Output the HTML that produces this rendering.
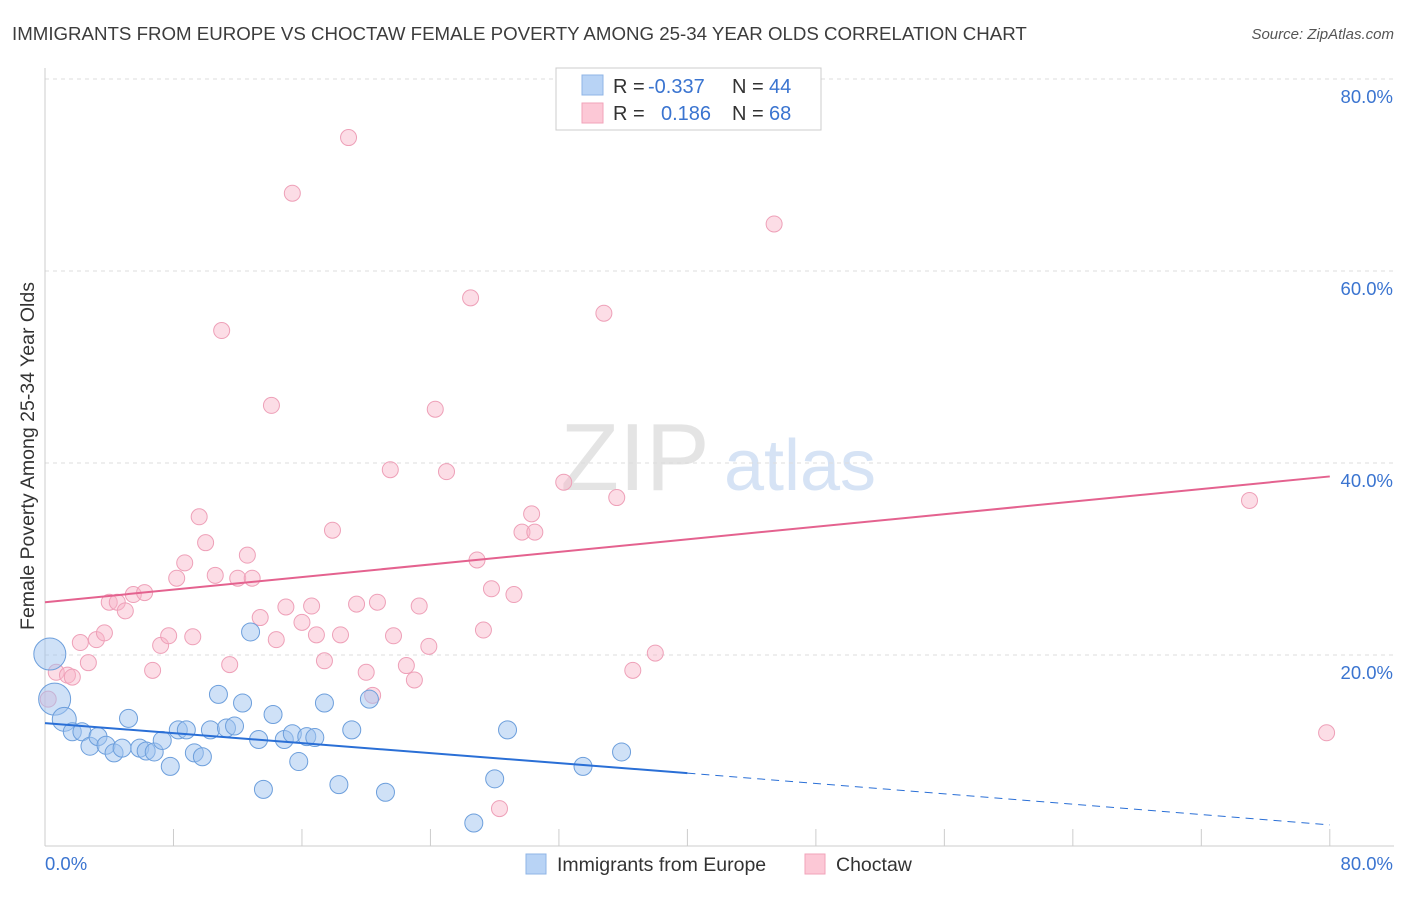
<!DOCTYPE html>
<html><head><meta charset="utf-8">
<style>
body{margin:0;background:#fff;font-family:"Liberation Sans",sans-serif;}
svg text{font-family:"Liberation Sans",sans-serif;}
</style></head>
<body>
<svg id="chart" width="1406" height="892" xmlns="http://www.w3.org/2000/svg">
<text x="12" y="40" font-size="18.7" fill="#3c3c3c">IMMIGRANTS FROM EUROPE VS CHOCTAW FEMALE POVERTY AMONG 25-34 YEAR OLDS CORRELATION CHART</text>
<text x="1394" y="39" font-size="15" fill="#555" font-style="italic" text-anchor="end">Source: ZipAtlas.com</text>
<text x="635" y="490" font-size="96" fill="#e4e4e4" font-family="Liberation Serif" text-anchor="middle">ZIP</text>
<text x="800" y="490" font-size="72" fill="#d6e3f5" text-anchor="middle">atlas</text>
<g id="grid"></g>
<g id="axes"></g>
<g id="points"></g>
<g id="lines"></g>
<text transform="translate(34,456) rotate(-90)" font-size="19.5" fill="#333" text-anchor="middle">Female Poverty Among 25-34 Year Olds</text>
<g>
<rect x="556" y="68" width="265" height="62" fill="#fff" stroke="#ccc"/>
<rect x="582" y="75" width="21" height="20" fill="#b8d3f5" stroke="#8fb4e6"/>
<rect x="582" y="103" width="21" height="20" fill="#fcc8d6" stroke="#f2a3ba"/>
<text x="613" y="93" font-size="20" fill="#333">R =</text>
<text x="648" y="93" font-size="20" fill="#3a74d0">-0.337</text>
<text x="732" y="93" font-size="20" fill="#333">N =</text>
<text x="769" y="93" font-size="20" fill="#3a74d0">44</text>
<text x="613" y="120" font-size="20" fill="#333">R =</text>
<text x="661" y="120" font-size="20" fill="#3a74d0">0.186</text>
<text x="732" y="120" font-size="20" fill="#333">N =</text>
<text x="769" y="120" font-size="20" fill="#3a74d0">68</text>
</g>
<g>
<rect x="526" y="854" width="20" height="20" fill="#b8d3f5" stroke="#8fb4e6"/>
<text x="557" y="871" font-size="19.5" fill="#333">Immigrants from Europe</text>
<rect x="805" y="854" width="20" height="20" fill="#fcc8d6" stroke="#f2a3ba"/>
<text x="836" y="871" font-size="19.5" fill="#333">Choctaw</text>
</g>
</svg>
<script>
const yTicks=[20,40,60,80];
const blueX=[0.3,0.6,1.2,1.7,2.3,2.8,3.3,3.8,4.3,4.8,5.2,5.9,6.3,6.8,7.3,7.8,8.3,8.8,9.3,9.8,10.3,10.8,11.3,11.8,12.3,12.8,13.3,13.6,14.2,14.9,15.4,15.8,16.3,16.8,17.4,18.3,19.1,20.2,21.2,26.7,28.0,28.8,33.5,35.9];
const blueY=[20.1,15.4,13.3,12.0,12.0,10.5,11.5,10.6,9.8,10.3,13.4,10.3,10.0,9.9,11.1,8.4,12.2,12.2,9.8,9.4,12.2,15.9,12.4,12.6,15.0,22.4,11.2,6.0,13.8,11.2,11.8,8.9,11.5,11.4,15.0,6.5,12.2,15.4,5.7,2.5,7.1,12.2,8.4,9.9];
const blueR=[16,16,12,9,9,9,9,9,9,9,9,9,9,9,9,9,9,9,9,9,9,9,9,9,9,9,9,9,9,9,9,9,9,9,9,9,9,9,9,9,9,9,9,9];
const pinkX=[0.2,0.7,1.4,1.7,2.2,2.7,3.2,3.7,4.0,4.5,5.0,5.5,6.2,6.7,7.2,7.7,8.2,8.7,9.2,9.6,10.0,10.6,11.0,11.5,12.0,12.6,12.9,13.4,14.1,14.4,15.0,15.4,16.0,16.6,16.9,17.4,17.9,18.4,18.9,19.4,20.0,20.4,20.7,21.5,21.7,22.5,23.0,23.3,23.9,24.3,25.0,26.5,26.9,27.3,27.8,28.3,29.2,29.7,30.3,30.5,32.3,34.8,35.6,36.6,38.0,45.4,75.0,79.8];
const pinkY=[15.4,18.2,17.9,17.7,21.3,19.2,21.6,22.3,25.5,25.5,24.6,26.3,26.5,18.4,21.0,22.0,28.0,29.6,21.9,34.4,31.7,28.3,53.8,19.0,28.0,30.4,28.0,23.9,46.0,21.6,25.0,68.1,23.4,25.1,22.1,19.4,33.0,22.1,73.9,25.3,18.2,15.8,25.5,39.3,22.0,18.9,17.4,25.1,20.9,45.6,39.1,57.2,29.9,22.6,26.9,4.0,26.3,32.8,34.7,32.8,38.0,55.6,36.4,18.4,20.2,64.9,36.1,11.9];
const blueLine={x0:0,y0:12.9,x1:40,y1:7.7,x2:80,y2:2.3};
const pinkLine={x0:0,y0:25.5,x1:80,y1:38.6};
const X=v=>45+v*16.06, Y=v=>847-v*9.6;
const NS='http://www.w3.org/2000/svg';
function mk(tag,attrs,parent){const e=document.createElementNS(NS,tag);for(const k in attrs)e.setAttribute(k,attrs[k]);parent.appendChild(e);return e;}
const grid=document.getElementById('grid'),axes=document.getElementById('axes'),pts=document.getElementById('points'),lines=document.getElementById('lines');
yTicks.forEach(t=>{
 const l=mk('line',{x1:45,x2:1394,y1:Y(t),y2:Y(t),stroke:'#ddd','stroke-dasharray':'4,4'},grid);
 
 
 const tx=mk('text',{x:1393,y:Y(t)+24,'font-size':18.5,fill:'#3a74d0','text-anchor':'end'},grid);
 tx.textContent=t+'.0%';
 
 
});
const ax=mk('line',{x1:45,x2:1394,y1:846,y2:846,stroke:'#ccc'},axes);


const ay=mk('line',{x1:45,x2:45,y1:68,y2:846,stroke:'#ccc'},axes);


for(let i=0;i<=10;i++){
 const tk=mk('line',{x1:X(i*8),x2:X(i*8),y1:829,y2:846,stroke:'#ccc'},axes);
 
 
}
const xl0=mk('text',{x:45,y:870,'font-size':18.5,fill:'#3a74d0'},axes);xl0.textContent='0.0%';


const xl1=mk('text',{x:1393,y:870,'font-size':18.5,fill:'#3a74d0','text-anchor':'end'},axes);xl1.textContent='80.0%';


pinkX.forEach((v,i)=>{
 const c=mk('circle',{cx:X(v),cy:Y(pinkY[i]),r:8,fill:'rgba(248,180,200,0.45)',stroke:'#eea0b8','stroke-width':1},pts);
 
 
});
blueX.forEach((v,i)=>{
 const c=mk('circle',{cx:X(v),cy:Y(blueY[i]),r:blueR[i],fill:'rgba(160,195,240,0.5)',stroke:'#6d9fdc','stroke-width':1},pts);
 
 
});
const bl=mk('line',{x1:X(blueLine.x0),y1:Y(blueLine.y0),x2:X(blueLine.x1),y2:Y(blueLine.y1),stroke:'#2a6fd6','stroke-width':2},lines);


const bd=mk('line',{x1:X(blueLine.x1),y1:Y(blueLine.y1),x2:X(blueLine.x2),y2:Y(blueLine.y2),stroke:'#2a6fd6','stroke-width':1,'stroke-dasharray':'8,6'},lines);


const pl=mk('line',{x1:X(pinkLine.x0),y1:Y(pinkLine.y0),x2:X(pinkLine.x1),y2:Y(pinkLine.y1),stroke:'#e4628f','stroke-width':2},lines);


</script>
</body></html>
